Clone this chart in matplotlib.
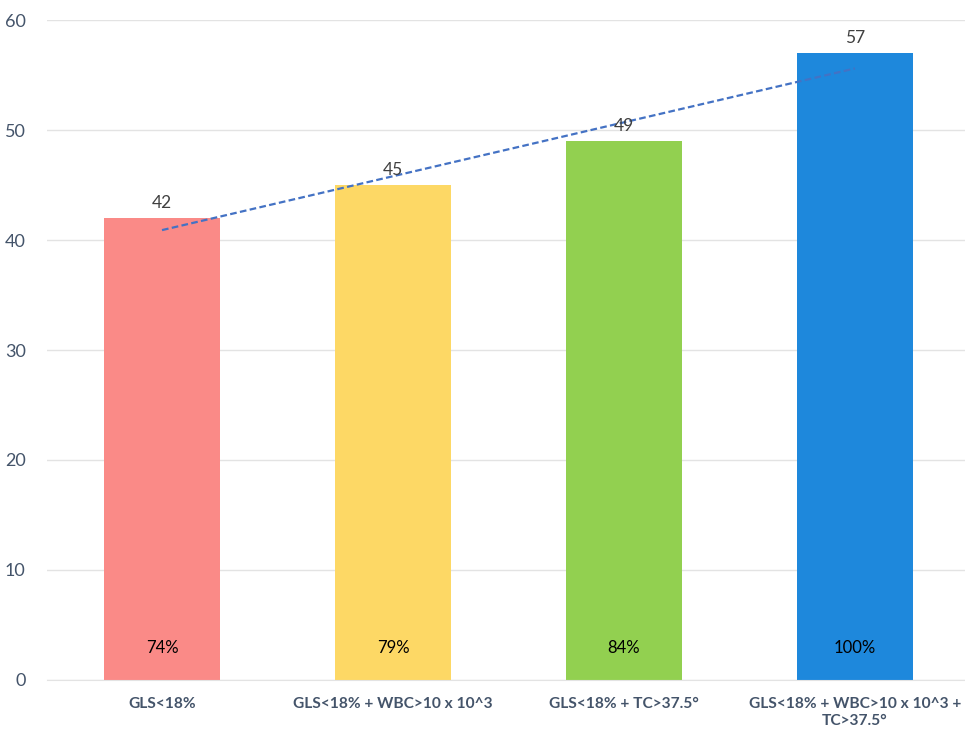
import matplotlib.pyplot as plt
import numpy as np

plt.rcParams['font.family'] = ['Lato', 'DejaVu Sans']

categories = ['GLS<18%', 'GLS<18% + WBC>10 x 10^3', 'GLS<18% + TC>37.5°',
              'GLS<18% + WBC>10 x 10^3 +\nTC>37.5°']
values = [42, 45, 49, 57]
pct_labels = ['74%', '79%', '84%', '100%']
colors = ['#FA8A87', '#FDD865', '#92D050', '#1E88DC']

fig = plt.figure(figsize=(9.65, 7.31), dpi=100)
ax = fig.add_axes([0.0482, 0.0698, 0.9575, 0.9028])

x = np.arange(len(values))
bars = ax.bar(x, values, width=0.5, color=colors, zorder=2)

# linear trend line
coef = np.polyfit(x, values, 1)
ax.plot(x, np.polyval(coef, x), ls='--', color='#4472C4', lw=1.6,
        dashes=(3, 1.5), zorder=3)

for xi, v, p in zip(x, values, pct_labels):
    ax.annotate(str(v), xy=(xi, v), xytext=(0, 5), textcoords='offset points',
                ha='center', va='bottom', fontsize=12.5, color='#404040')
    ax.text(xi, 2.9, p, ha='center', va='center', fontsize=12, color='black')

ax.set_xlim(-0.5, 3.5)
ax.set_ylim(0, 60)
ax.set_yticks(range(0, 61, 10))
ax.set_xticks(x)
ax.set_xticklabels(categories, fontsize=11.2, fontweight='bold', color='#44546A',
                   linespacing=1.35)
ax.tick_params(axis='y', labelsize=13, labelcolor='#44546A', length=0, pad=15)
ax.tick_params(axis='x', length=0, pad=12)
ax.grid(axis='y', color='#E3E3E3', lw=1, zorder=0)
for s in ['top', 'right', 'left']:
    ax.spines[s].set_visible(False)
ax.spines['bottom'].set_color('#E3E3E3')

plt.savefig('out.png', dpi=100)
